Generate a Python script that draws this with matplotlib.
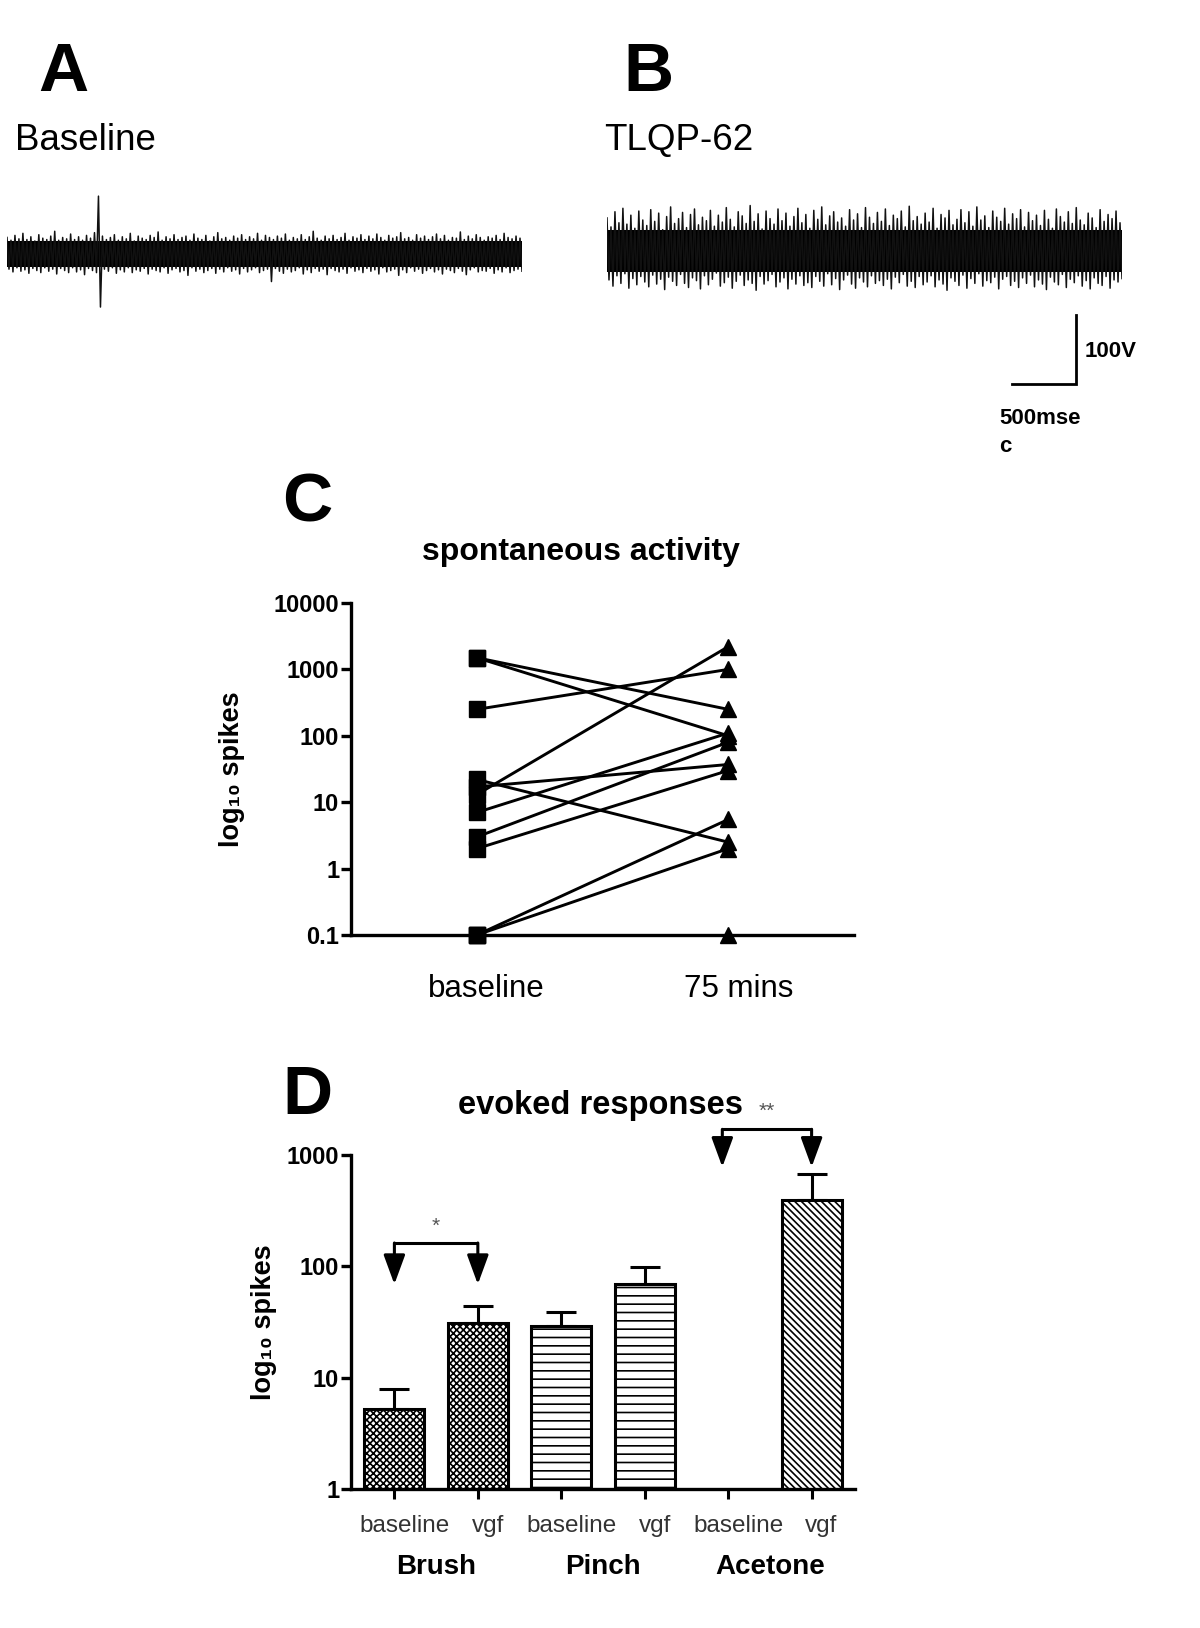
import numpy as np
import matplotlib
matplotlib.use("Agg")
import matplotlib.pyplot as plt
from matplotlib.transforms import ScaledTranslation

plt.rcParams['font.family'] = ['Liberation Sans', 'DejaVu Sans']
plt.rcParams['hatch.linewidth'] = 1.2

# ---- data ----
# raw traces (uV), upward / downward excursions sampled along a 4 s sweep
trace_a_up = [24, 20, 27, 22, 30, 21, 25, 19, 28, 23, 21, 26, 33, 20, 24, 22, 29, 21, 25, 20,
              27, 23, 31, 84, 26, 21, 24, 28, 20, 25, 22, 30, 19, 26, 23, 21, 27, 24, 32, 20,
              25, 22, 28, 21, 24, 26, 20, 29, 23, 21, 27, 19, 25, 31, 22, 24, 20, 26, 23, 28,
              21, 25, 22, 30, 20, 27, 24, 21, 26, 23, 29, 20, 24, 22, 28, 21, 25, 33, 23, 20,
              26, 22, 27, 21, 24, 30, 20, 25, 23, 28, 21, 26, 22, 29, 24, 20, 27, 23, 25, 31,
              22, 24, 20, 28, 23, 26, 21, 25, 29, 22, 27, 20, 24, 23, 32, 21, 26, 22, 28, 24,
              20, 25, 23, 27, 21, 30, 24, 22, 26, 23]
trace_a_down = [22, 26, 20, 25, 23, 28, 21, 24, 27, 20, 25, 22, 29, 21, 24, 27, 20, 26, 23, 30,
                21, 24, 27, 77, 22, 25, 20, 28, 23, 26, 20, 27, 23, 25, 21, 29, 22, 24, 26, 20,
                28, 23, 21, 26, 24, 31, 20, 25, 22, 27, 24, 21, 28, 22, 26, 20, 25, 23, 29, 21,
                26, 23, 20, 27, 24, 22, 40, 21, 25, 28, 22, 26, 24, 20, 29, 23, 27, 21, 25, 22,
                30, 21, 24, 26, 22, 28, 20, 25, 23, 27, 21, 25, 23, 29, 20, 26, 24, 22, 31, 23,
                27, 20, 25, 22, 28, 24, 21, 26, 23, 29, 22, 24, 27, 21, 25, 30, 23, 20, 26, 24,
                25, 21, 28, 23, 26, 20, 27, 24, 22, 25]
trace_b_up = [48, 35, 57, 41, 62, 39, 52, 33, 58, 45, 37, 60, 43, 55, 31, 50, 64, 40, 47, 56,
              34, 53, 61, 38, 49, 44, 59, 36, 52, 42, 63, 46, 35, 57, 51, 40, 66, 43, 54, 32,
              58, 47, 39, 61, 44, 55, 36, 50, 62, 41, 53, 33, 59, 46, 64, 38, 51, 57, 42, 48,
              36, 60, 45, 54, 34, 63, 49, 40, 56, 43, 61, 37, 52, 47, 58, 35, 65, 44, 50, 39,
              55, 42, 62, 33, 53, 48, 59, 38, 46, 60, 41, 57, 36, 64, 45, 51, 34, 58, 49, 43,
              62, 39, 54, 47, 60, 35, 56, 44, 52, 37, 59, 46, 33, 61, 50, 42, 57, 40, 63, 45,
              38, 55, 48, 34, 60, 43, 53, 47, 58, 41]
trace_b_down = [42, 51, 36, 47, 33, 54, 40, 49, 37, 45, 52, 35, 48, 41, 56, 38, 44, 50, 34, 47,
                53, 39, 43, 55, 36, 49, 41, 32, 51, 46, 38, 54, 44, 35, 50, 42, 47, 57, 37, 48,
                43, 34, 52, 45, 39, 55, 41, 48, 36, 50, 46, 53, 37, 44, 51, 33, 49, 40, 56, 42,
                35, 48, 54, 39, 45, 52, 36, 47, 43, 50, 41, 55, 38, 46, 34, 51, 44, 53, 37, 49,
                45, 36, 52, 42, 48, 57, 39, 44, 50, 35, 54, 40, 47, 33, 51, 43, 46, 38, 55, 41,
                37, 50, 44, 53, 39, 47, 35, 52, 42, 48, 56, 38, 45, 49, 34, 53, 41, 46, 36, 51,
                43, 55, 39, 47, 50, 37, 54, 42, 45, 40]
core_a = 19
core_b = 30
sweep_ms = 4000

# spontaneous activity (spikes), paired baseline -> 75 mins
spont_baseline = [1500, 1500, 250, 13, 22, 17, 7, 3, 2, 0.1, 0.1, 0.1]
spont_75min = [250, 100, 1000, 2200, 2.5, 37, 110, 80, 30, 5.5, 2, 0.1]
spont_cats = ['baseline', '75 mins']

# evoked responses
evoked_labels = ['baseline', 'vgf', 'baseline', 'vgf', 'baseline', 'vgf']
evoked_groups = ['Brush', 'Pinch', 'Acetone']
evoked_mean = [5.2, 31, 29, 69, 0, 395]
evoked_sem = [2.7, 13, 9.6, 29, 0, 285]
evoked_hatch = ['xxxxx', 'xxxxx', '--', '--', '\\\\\\\\\\', '\\\\\\\\\\']

W, H = 1200, 1628
fig = plt.figure(figsize=(W / 100, H / 100), dpi=100)


def add_ax(left, top, right, bottom):
    return fig.add_axes([left / W, 1 - bottom / H, (right - left) / W, (bottom - top) / H])


def ftext(x, y, s, **kw):
    return fig.text(x / W, 1 - y / H, s, **kw)


def shift_labels(labels, dx_px):
    off = ScaledTranslation(dx_px / 100, 0, fig.dpi_scale_trans)
    for lbl in labels:
        lbl.set_transform(lbl.get_transform() + off)


# ---- A / B traces ----
def draw_trace(ax, up, down, core):
    y = np.ravel(np.column_stack([up, -np.asarray(down)]))
    t = np.linspace(0, sweep_ms, len(y))
    ax.fill_between([0, sweep_ms], -core, core, color='k', lw=0)
    ax.plot(t, y, color='#111111', lw=1.1)
    ax.set_xlim(0, sweep_ms)
    ax.set_ylim(-90, 90)
    ax.axis('off')


ax_a = add_ax(7, 192, 522, 316)
draw_trace(ax_a, trace_a_up, trace_a_down, core_a)
ax_b = add_ax(607, 189, 1122, 313)
draw_trace(ax_b, trace_b_up, trace_b_down, core_b)

# scale bar: 500 ms / 100 uV
bar_x, bar_y = 3643, -193
ax_b.plot([bar_x - 500, bar_x, bar_x], [bar_y, bar_y, bar_y + 100], color='k', lw=2,
          clip_on=False, solid_joinstyle='miter')
ftext(1085, 357, '100V', fontsize=16, fontweight='bold', va='baseline')
ftext(999, 424, '500mse', fontsize=16, fontweight='bold', va='baseline')
ftext(999, 452, 'c', fontsize=16, fontweight='bold', va='baseline')

ftext(63, 91, 'A', fontsize=50, fontweight='bold', ha='center', va='baseline')
ftext(648, 91, 'B', fontsize=50, fontweight='bold', ha='center', va='baseline')
ftext(15, 150, 'Baseline', fontsize=26.5, va='baseline')
ftext(604, 150, 'TLQP-62', fontsize=26.5, va='baseline')

# ---- C spontaneous activity ----
axc = add_ax(351, 603, 854, 935)
for b, a in zip(spont_baseline, spont_75min):
    axc.plot([0, 1], [b, a], color='k', lw=2.1, zorder=2)
axc.plot(np.zeros(len(spont_baseline)), spont_baseline, 's', color='k', ms=11,
         clip_on=False, zorder=3)
axc.plot(np.ones(len(spont_75min)), spont_75min, '^', color='k', ms=11,
         clip_on=False, zorder=3)
axc.set_yscale('log')
axc.set_ylim(0.1, 10000)
axc.set_xlim(-0.5, 1.5)
axc.set_yticks([0.1, 1, 10, 100, 1000, 10000])
axc.set_yticklabels(['0.1', '1', '10', '100', '1000', '10000'], fontweight='bold')
axc.yaxis.set_minor_locator(matplotlib.ticker.NullLocator())
axc.set_xticks([0, 1])
axc.set_xticklabels(spont_cats)
axc.tick_params(axis='y', length=7, width=2.4, pad=1.5, labelsize=17)
axc.tick_params(axis='x', length=0, pad=28, labelsize=22.5)
shift_labels(axc.get_xticklabels(), 10)
for side in ['top', 'right']:
    axc.spines[side].set_visible(False)
for side in ['left', 'bottom']:
    axc.spines[side].set_linewidth(2.4)
axc.set_ylabel('log\u2081\u2080 spikes', fontsize=19.5, fontweight='bold')
axc.yaxis.set_label_coords(-0.211, 0.5)

ftext(282, 522, 'C', fontsize=50, fontweight='bold', va='baseline')
ftext(581, 560, 'spontaneous activity', fontsize=23, fontweight='bold', ha='center',
      va='baseline')

# ---- D evoked responses ----
axd = add_ax(351, 1155, 855, 1489)
axd.set_yscale('log')
xs = np.arange(len(evoked_mean))
for i in xs:
    if evoked_mean[i] > 0:
        axd.bar(i, evoked_mean[i], width=0.72, color='white', edgecolor='k', lw=2.2,
                hatch=evoked_hatch[i], zorder=2)
        axd.errorbar(i, evoked_mean[i], yerr=[[0], [evoked_sem[i]]], fmt='none',
                     ecolor='k', elinewidth=2.2, capsize=10.5, capthick=2.2, zorder=1)
axd.set_ylim(1, 1000)
axd.set_xlim(-0.52, 5.52)
axd.set_yticks([1, 10, 100, 1000])
axd.set_yticklabels(['1', '10', '100', '1000'], fontweight='bold')
axd.yaxis.set_minor_locator(matplotlib.ticker.NullLocator())
axd.set_xticks(xs)
axd.set_xticklabels(evoked_labels, color='#333333')
axd.tick_params(axis='y', length=7, width=2.4, pad=1.5, labelsize=17)
axd.tick_params(axis='x', length=7, width=2.2, pad=12, labelsize=17.5)
shift_labels(axd.get_xticklabels(), 10)
for side in ['top', 'right']:
    axd.spines[side].set_visible(False)
for side in ['left', 'bottom']:
    axd.spines[side].set_linewidth(2.4)
axd.set_ylabel('log\u2081\u2080 spikes', fontsize=19.5, fontweight='bold')
axd.yaxis.set_label_coords(-0.147, 0.5)
for gi, g in enumerate(evoked_groups):
    axd.text(2 * gi + 0.5, -0.254, g, transform=axd.get_xaxis_transform(), ha='center',
             va='baseline', fontsize=20, fontweight='bold')


def sig_bracket(ax, x0, x1, y_top, y_tip, label, y_label):
    ax.plot([x0, x1], [y_top, y_top], color='k', lw=2.2, clip_on=False,
            solid_capstyle='butt')
    for x in (x0, x1):
        ax.annotate('', xy=(x, y_tip), xytext=(x, y_top), annotation_clip=False,
                    arrowprops=dict(arrowstyle='-|>,head_length=0.6,head_width=0.22',
                                    mutation_scale=30, lw=2.2, color='k',
                                    shrinkA=0, shrinkB=0))
    ax.text((x0 + x1) / 2, y_label, label, ha='center', va='center', fontsize=15,
            color='#555555', clip_on=False)


sig_bracket(axd, 0, 1, 162, 69, '*', 230)
sig_bracket(axd, 3.93, 5, 1700, 780, '**', 2450)

ftext(282, 1114, 'D', fontsize=50, fontweight='bold', va='baseline')
ftext(601, 1114, 'evoked responses', fontsize=23.5, fontweight='bold', ha='center',
      va='baseline')

fig.savefig('out.png', dpi=100)
